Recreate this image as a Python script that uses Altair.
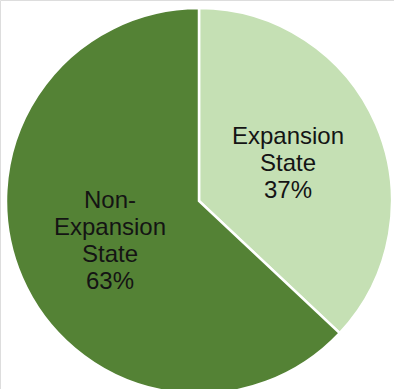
import altair as alt
import pandas as pd

categories = ["Expansion State", "Non-Expansion State"]
values = [37, 63]
labels = ["Expansion\nState\n37%", "Non-\nExpansion\nState\n63%"]
colors = ["#c5e0b4", "#548235"]
order_idx = [0, 1]

df = pd.DataFrame({"cat": categories, "val": values, "label": labels, "ord": order_idx})

cx, cy, R = 199, 201, 193
LH = 27

base = alt.Chart(df).encode(
    theta=alt.Theta("val:Q", stack=True),
    order=alt.Order("ord:Q"),
)

pie = base.mark_arc(stroke="white", strokeWidth=2.5).encode(
    color=alt.Color("cat:N", scale=alt.Scale(domain=categories, range=colors), legend=None),
    x=alt.value(cx), y=alt.value(cy),
    radius=alt.value(R),
)

layers = [pie]
for cat, lab in zip(categories, labels):
    n = lab.count("\n") + 1
    t = base.mark_text(
        font="Liberation Sans", fontSize=24, lineBreak="\n", lineHeight=LH,
        color="#141414", align="center", baseline="middle",
        dy=-(n - 1) * LH / 2 + 2,
    ).encode(
        text="label:N",
        x=alt.value(cx), y=alt.value(cy),
        radius=alt.value(97),
        opacity=alt.condition(alt.datum.cat == cat, alt.value(1), alt.value(0)),
    )
    layers.append(t)

chart = alt.layer(*layers).properties(
    width=394, height=389,
    autosize=alt.AutoSizeParams(type="none"),
    padding=0,
).configure_view(stroke=None).configure(background="white")

chart.save("out.html", embed_options={"renderer": "svg", "actions": False})
